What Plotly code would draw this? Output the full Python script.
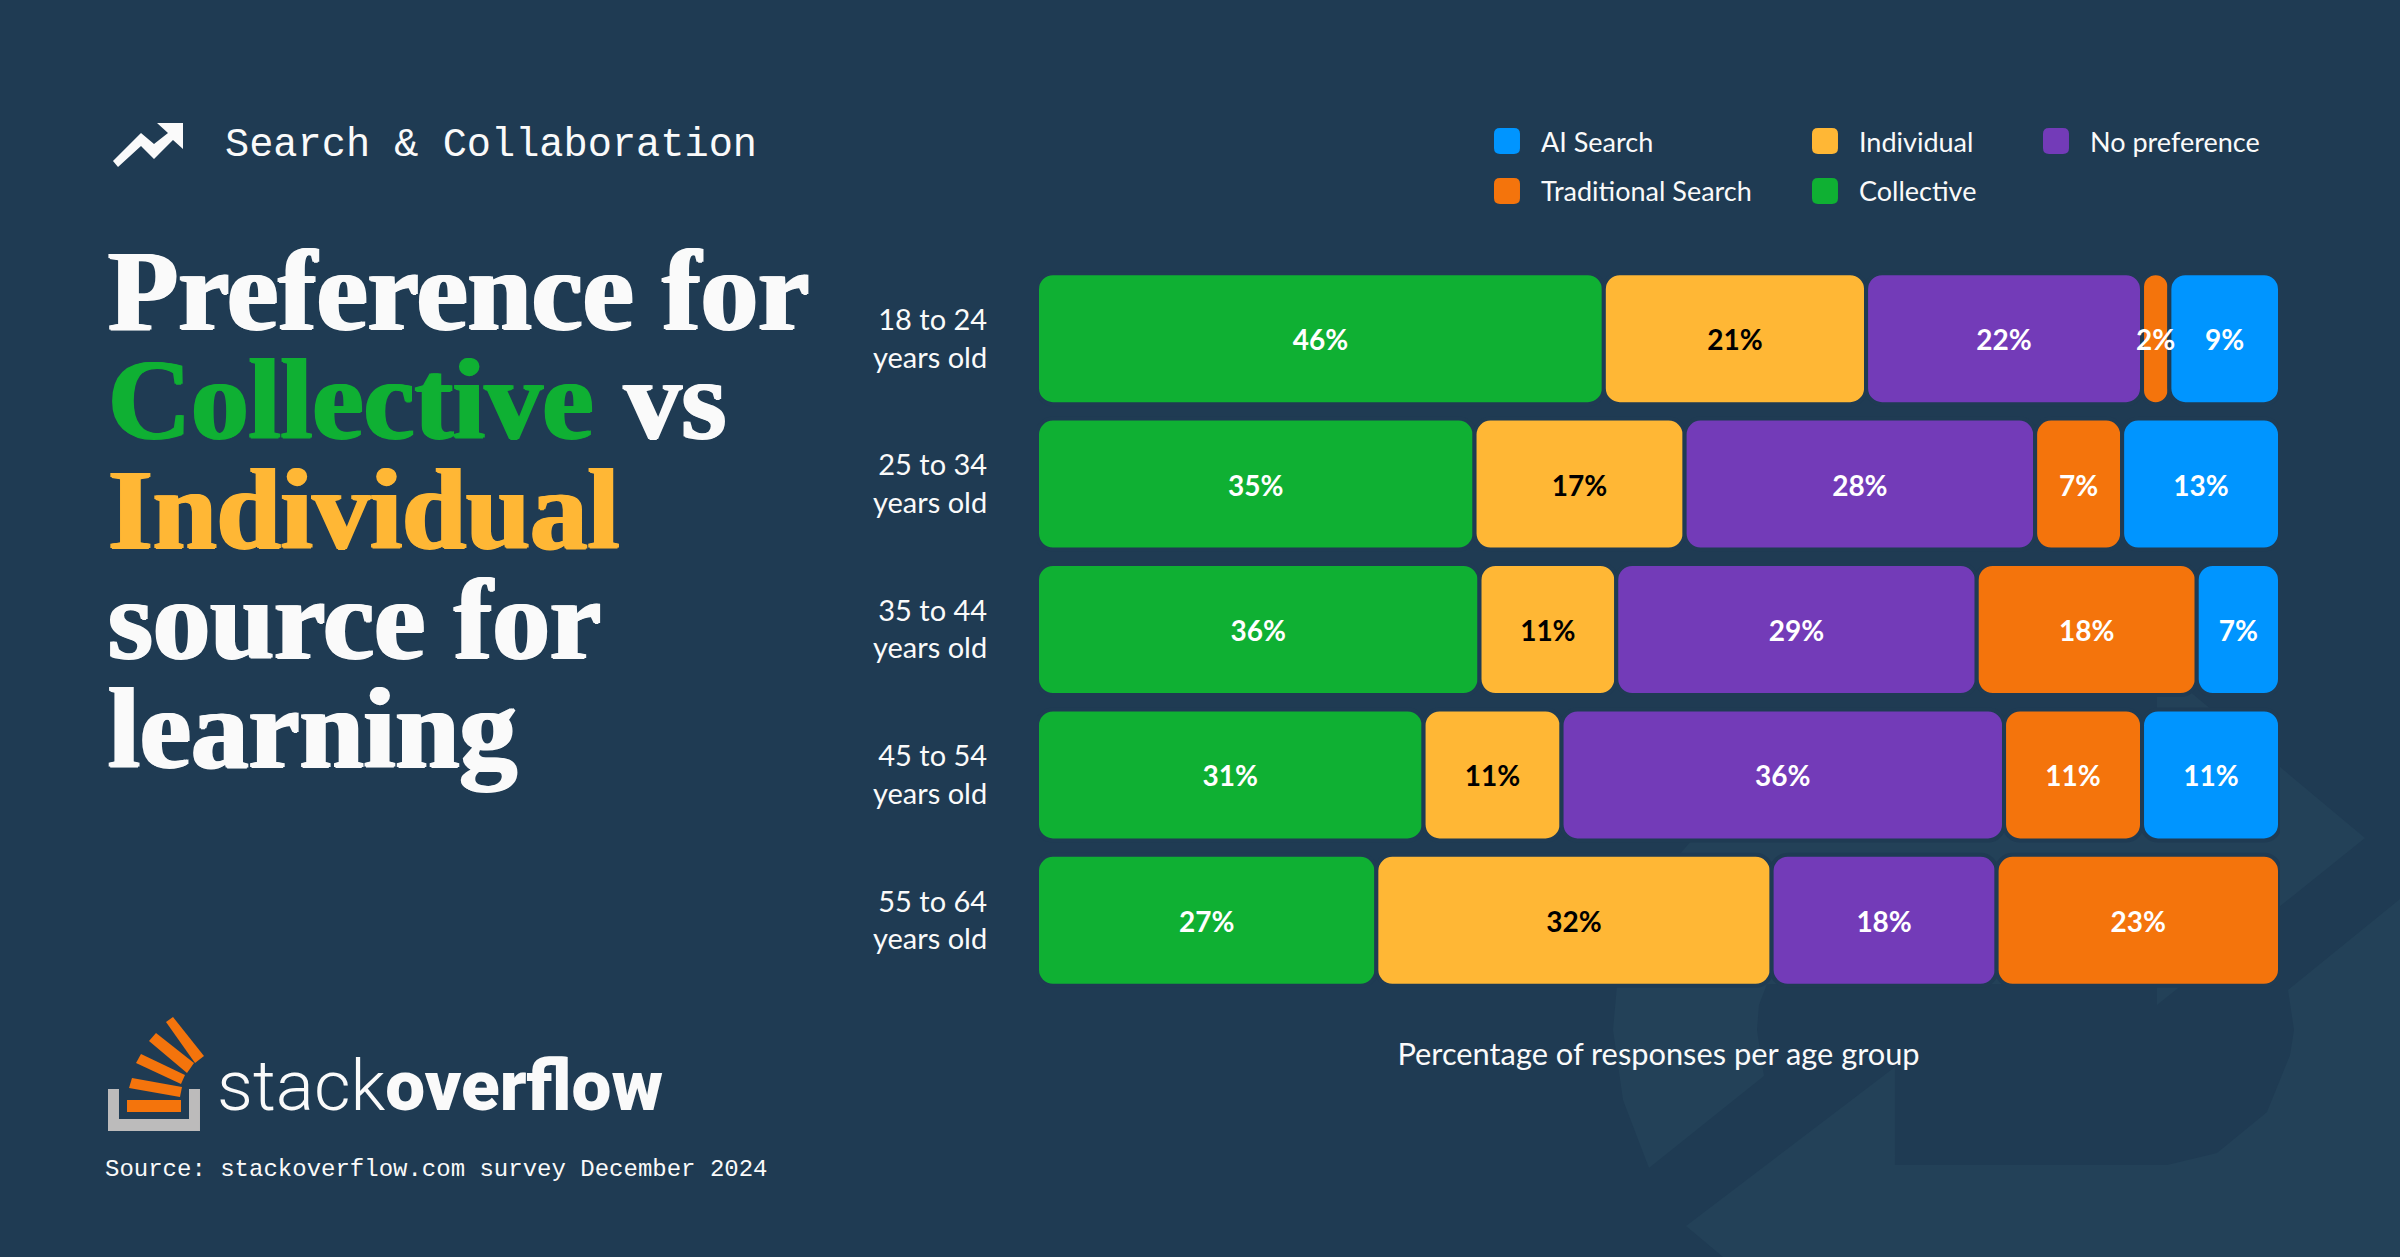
import plotly.graph_objects as go

# ---------- data ----------
age_groups = ["18 to 24<br>years old", "25 to 34<br>years old", "35 to 44<br>years old",
              "45 to 54<br>years old", "55 to 64<br>years old"]
series_names = ["Collective", "Individual", "No preference", "Traditional Search", "AI Search"]
collective = [45.6, 35.2, 35.6, 31.1, 27.3]
individual = [21.1, 16.9, 11.0, 11.1, 31.8]
no_preference = [22.2, 28.2, 29.0, 35.6, 18.1]
traditional = [2.2, 7.0, 17.7, 11.1, 22.8]
ai_search = [8.9, 12.7, 6.7, 11.1, None]
labels_collective = ["46%", "35%", "36%", "31%", "27%"]
labels_individual = ["21%", "17%", "11%", "11%", "32%"]
labels_no_pref = ["22%", "28%", "29%", "36%", "18%"]
labels_traditional = ["2%", "7%", "18%", "11%", "23%"]
labels_ai = ["9%", "13%", "7%", "11%", ""]

BG = "#1f3b53"
WM = "#234158"
GREEN = "#0fb033"
YELLOW = "#ffb735"
PURPLE = "#733bb8"
ORANGE = "#f4740c"
BLUE = "#0095ff"
WHITE = "#fafafa"

W, H = 2400, 1257
SANS = "Lato"
MONO = "Liberation Mono"
SERIF = "Liberation Serif"
LABEL_NUDGE = 0.031


def px(x):
    return x / W


def py(y):
    return 1 - y / H


def poly(points):
    return "M " + " L ".join(f"{px(x):.5f},{py(y):.5f}" for x, y in points) + " Z"


def rounded(x0, y0, x1, y1, r):
    p = lambda x, y: f"{px(x):.5f},{py(y):.5f}"
    return (f"M {p(x0 + r, y0)} L {p(x1 - r, y0)} Q {p(x1, y0)} {p(x1, y0 + r)} "
            f"L {p(x1, y1 - r)} Q {p(x1, y1)} {p(x1 - r, y1)} L {p(x0 + r, y1)} "
            f"Q {p(x0, y1)} {p(x0, y1 - r)} L {p(x0, y0 + r)} Q {p(x0, y0)} {p(x0 + r, y0)} Z")


fig = go.Figure()

columns = [
    (series_names[0], collective, labels_collective, GREEN, "white"),
    (series_names[1], individual, labels_individual, YELLOW, "black"),
    (series_names[2], no_preference, labels_no_pref, PURPLE, "white"),
    (series_names[3], traditional, labels_traditional, ORANGE, "white"),
    (series_names[4], ai_search, labels_ai, BLUE, "white"),
]
running = [0.0] * len(age_groups)
label_traces = []
for name, values, labels, color, text_color in columns:
    fig.add_trace(go.Bar(
        name=name, orientation="h", y=age_groups, x=values, base=list(running),
        marker=dict(color=color, cornerradius=16, line=dict(color=BG, width=4)),
        showlegend=False, hoverinfo="skip",
    ))
    label_traces.append(go.Scatter(
        mode="text", y=age_groups, x=[r + (v or 0) / 2 for r, v in zip(running, values)], yaxis="y2",
        text=labels, textposition="middle center", cliponaxis=False,
        textfont=dict(family=SANS, size=28, color=text_color, weight=700),
        showlegend=False, hoverinfo="skip",
    ))
    running = [r + (v or 0) for r, v in zip(running, values)]
fig.add_traces(label_traces)

shapes = []
# background watermark
for pts in [
    [(1692, 840), (1790, 720), (2157, 720), (2157, 690), (2188, 690), (2365, 838), (2157, 1005),
     (2157, 984), (1767, 984), (1759, 1005), (1757, 1030), (1764, 1076), (1649, 1168),
     (1623, 1100), (1613, 1030), (1617, 985), (1678, 856)],
    [(1895, 1067), (1686, 1226), (1723, 1257), (2400, 1257), (2400, 899), (2288, 990),
     (2294, 1030), (2290, 1055), (2267, 1112), (2217, 1153), (2167, 1165), (1895, 1165)],
]:
    shapes.append(dict(type="path", path=poly(pts), xref="paper", yref="paper",
                       fillcolor=WM, line=dict(width=0), layer="below"))
# header arrow
shapes.append(dict(type="path", xref="paper", yref="paper", fillcolor=WHITE, line=dict(width=0),
                   path=poly([(113, 161), (118, 167), (141, 146), (154, 159), (173, 140), (183, 149),
                              (183, 123), (157, 123), (168, 133), (154, 144), (141, 133)])))
# logo
shapes.append(dict(type="path", xref="paper", yref="paper", fillcolor="#bcbbbb", line=dict(width=0),
                   path=poly([(108, 1089), (119, 1089), (119, 1119), (189, 1119), (189, 1089),
                              (200, 1089), (200, 1131), (108, 1131)])))
for pts in [
    [(127, 1100), (181, 1100), (181, 1112), (127, 1112)],
    [(132, 1078), (182, 1087), (180, 1097), (129, 1088)],
    [(141, 1054), (185, 1075), (181, 1084), (136, 1063)],
    [(156, 1033), (194, 1063), (187, 1073), (149, 1041)],
    [(173, 1017), (204, 1056), (195, 1063), (166, 1022)],
]:
    shapes.append(dict(type="path", path=poly(pts), xref="paper", yref="paper",
                       fillcolor=ORANGE, line=dict(width=0)))

annotations = []


def note(text, x, y, size, family, color=WHITE, weight=400, anchor="left", shadow=None):
    font = dict(family=family, size=size, color=color, weight=weight)
    if shadow:
        font["shadow"] = shadow
    annotations.append(dict(text=text, x=px(x), y=py(y), xref="paper", yref="paper",
                            xanchor=anchor, yanchor="middle", showarrow=False, align=anchor,
                            font=font))


# legend
legend_items = [("AI Search", BLUE, 1494, 141), ("Individual", YELLOW, 1812, 141),
                ("No preference", PURPLE, 2043, 141), ("Traditional Search", ORANGE, 1494, 191),
                ("Collective", GREEN, 1812, 191)]
for label, color, x, y in legend_items:
    shapes.append(dict(type="path", path=rounded(x, y - 13, x + 26, y + 13, 6), xref="paper", yref="paper",
                       fillcolor=color, line=dict(width=0)))
    note(label, x + 45, y, 27, SANS)

note("Search &amp; Collaboration", 223, 145, 40.3, MONO)


def heavy(c):
    return f"1.6px 0 0 {c}, -1.6px 0 0 {c}, 0 0.8px 0 {c}"


title_parts = [
    ("Preference for", 106, 0, WHITE),
    ("Collective", 106, 1, GREEN),
    ("vs", 622, 1, WHITE),
    ("Individual", 106, 2, YELLOW),
    ("source for", 106, 3, WHITE),
    ("learning", 106, 4, WHITE),
]
for text, x, row, color in title_parts:
    note(text, x, 290 + row * 109.7, 115, SERIF, color=color, weight=700, shadow=heavy(color))
note('stack<span style="font-weight:900">overflow</span>', 215, 1085, 71, "Roboto", weight=300)
note("Source: stackoverflow.com survey December 2024", 103, 1169, 24, MONO)

fig.update_layout(
    width=W, height=H, margin=dict(l=0, r=0, t=0, b=0, autoexpand=False),
    paper_bgcolor=BG, plot_bgcolor="rgba(0,0,0,0)",
    barmode="overlay", bargap=0.099,
    shapes=shapes, annotations=annotations, showlegend=False,
    xaxis=dict(domain=[1037 / W, 2280 / W], range=[0, 100], showgrid=False, zeroline=False,
               showticklabels=False, ticks="", showline=False,
               title=dict(text="Percentage of responses per age group", standoff=50,
                          font=dict(family=SANS, size=30.8, color=WHITE))),
    yaxis=dict(domain=[1 - 993 / H, 1 - 266 / H], autorange=False, range=[4.5, -0.5], type="category",
               showgrid=False, zeroline=False, showline=False, automargin=False,
               ticks="outside", ticklen=43, tickcolor="rgba(0,0,0,0)", tickwidth=1,
               tickfont=dict(family=SANS, size=29, color=WHITE)),
    yaxis2=dict(domain=[1 - 993 / H, 1 - 266 / H], overlaying="y", autorange=False, type="category",
                range=[4.5 - LABEL_NUDGE, -0.5 - LABEL_NUDGE], visible=False,
                categoryorder="array", categoryarray=age_groups),
)

fig.write_html("out.html", config={"displayModeBar": False},
               post_script="document.body.style.margin='0';document.body.style.overflow='hidden';")
